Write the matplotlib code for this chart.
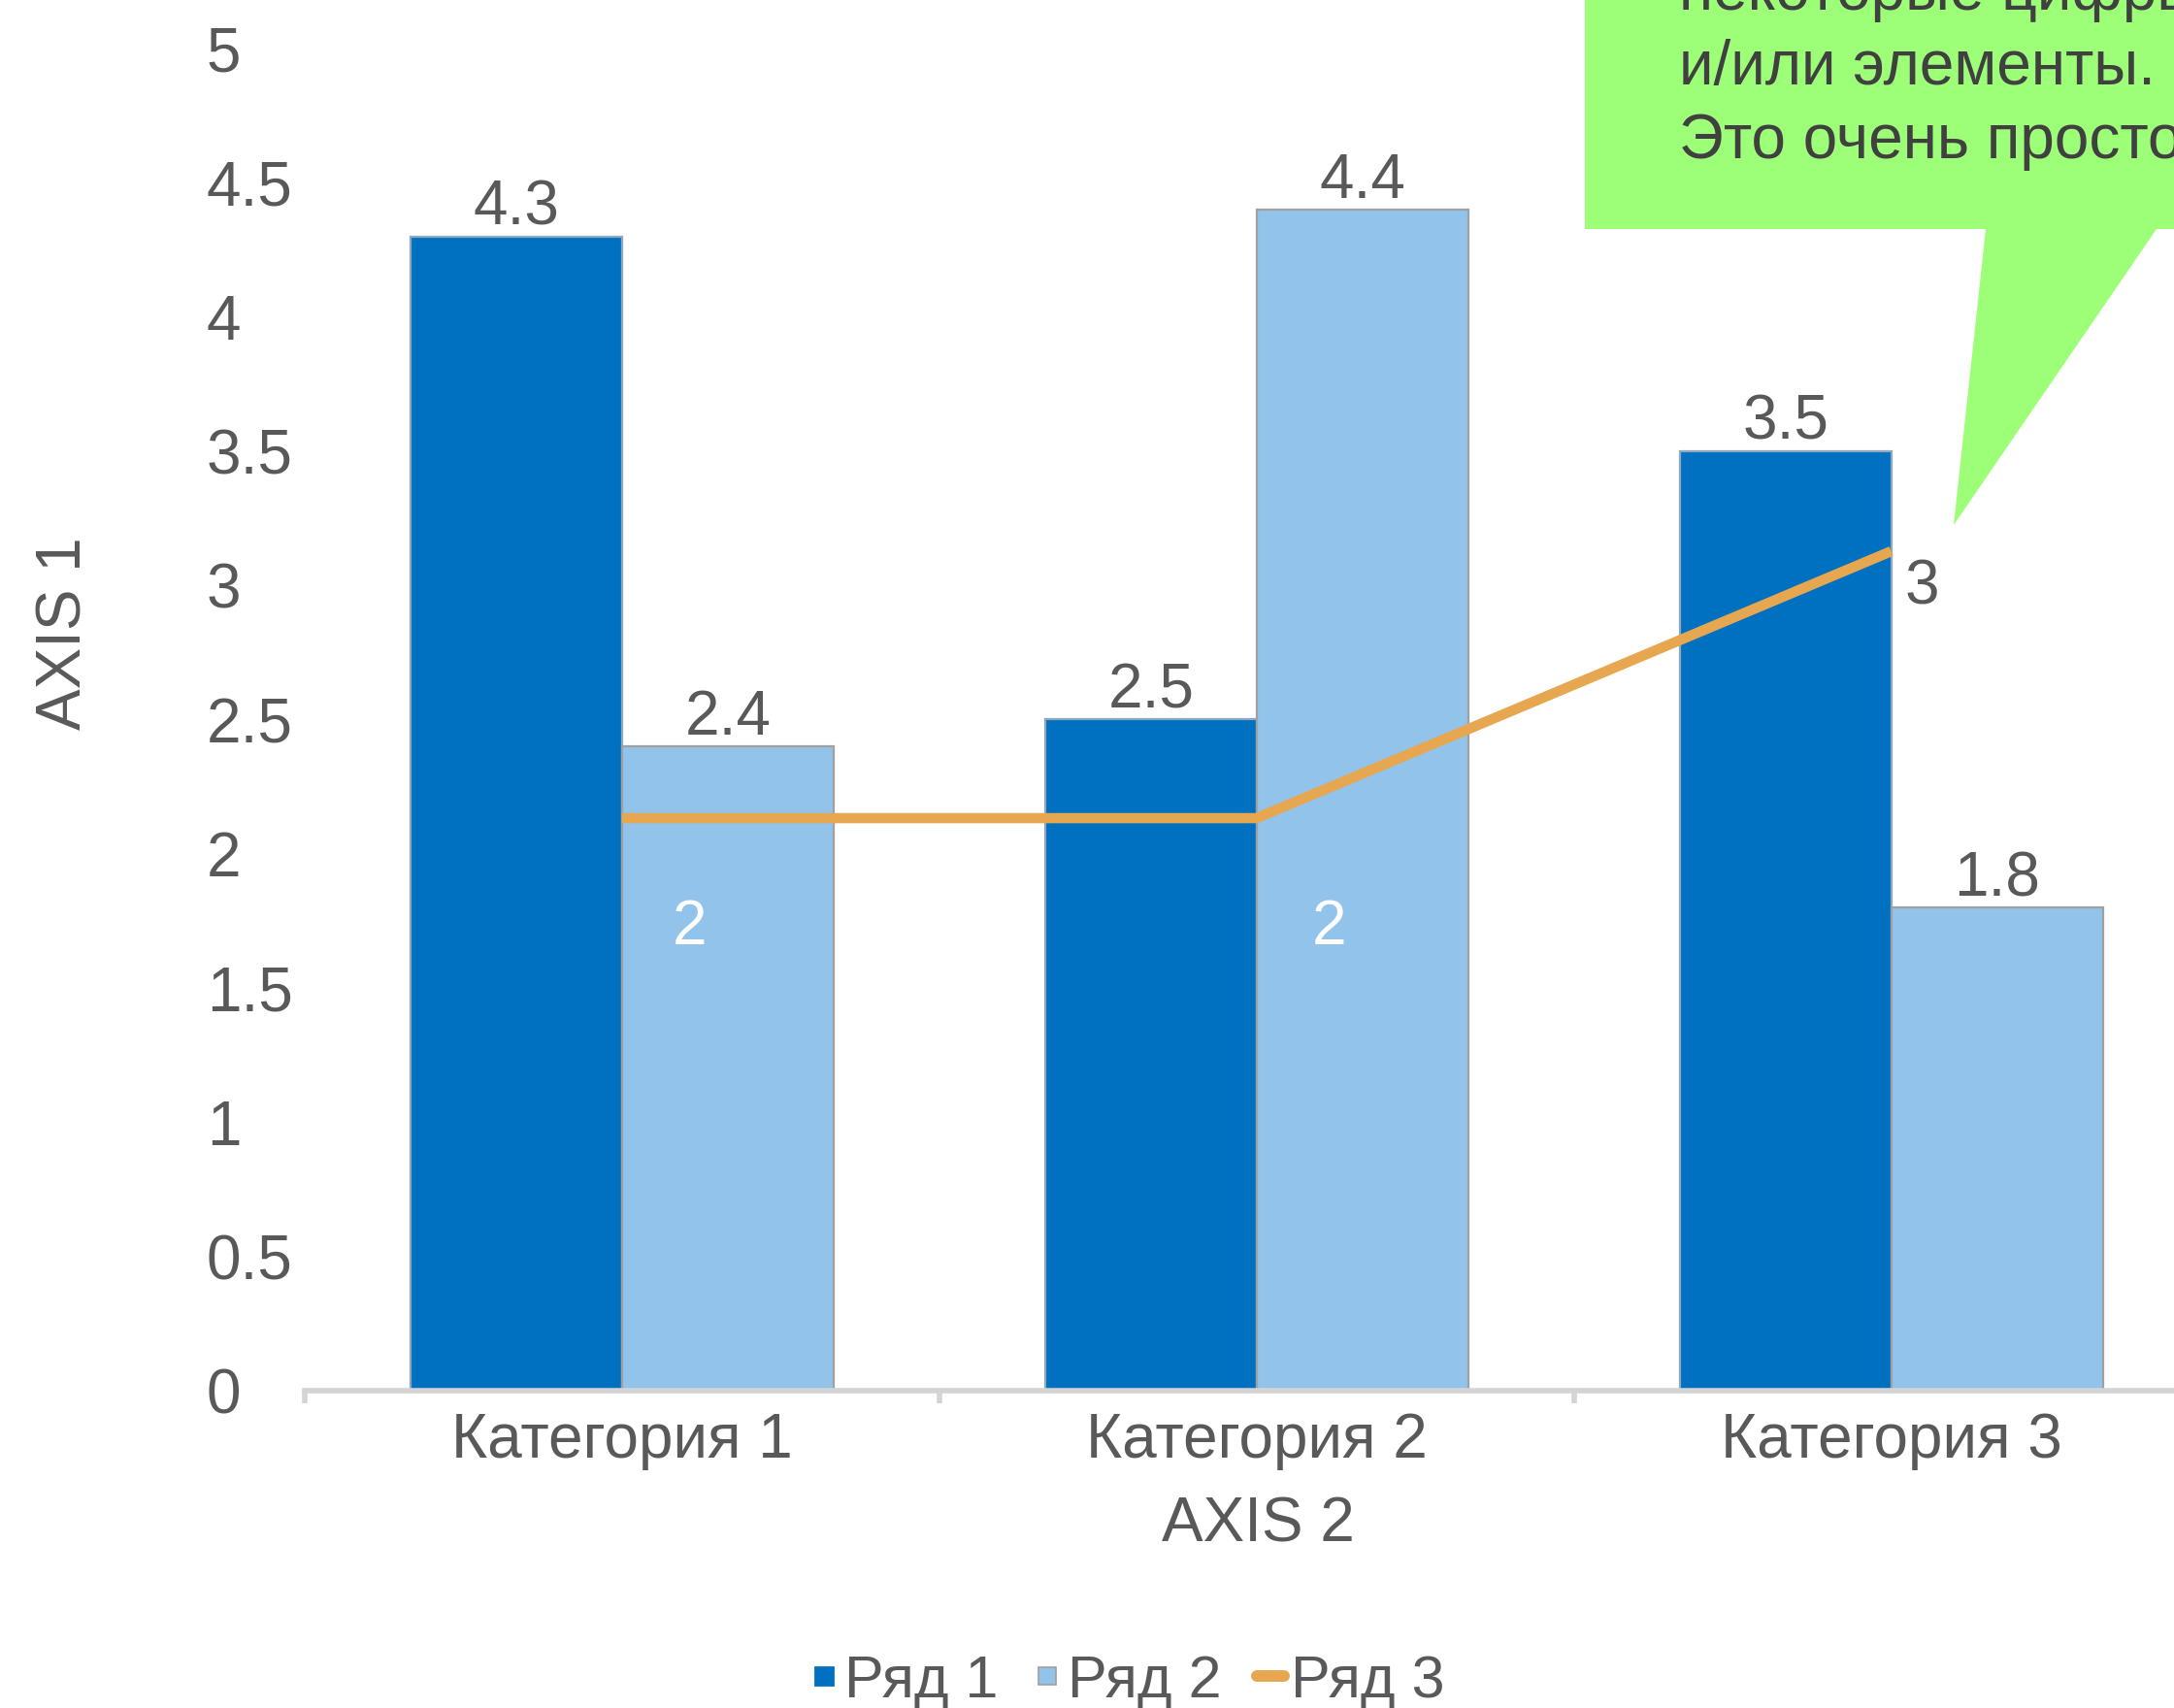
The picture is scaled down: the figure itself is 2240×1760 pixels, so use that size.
import matplotlib.pyplot as plt
from matplotlib.lines import Line2D
from matplotlib.patches import Polygon
import numpy as np

# --- Data ---
categories = ['Категория 1', 'Категория 2', 'Категория 3']
series_names = ['Ряд 1', 'Ряд 2', 'Ряд 3']
series1 = [4.3, 2.5, 3.5]
series2 = [2.4, 4.4, 1.8]
series3 = [2, 2, 3]
y_ticks = [0, 0.5, 1, 1.5, 2, 2.5, 3, 3.5, 4, 4.5, 5]
callout_lines = ['некоторые цифры', 'и/или элементы.', 'Это очень просто']

# --- Style ---
plt.rcParams['font.family'] = ['Liberation Sans', 'DejaVu Sans']
DARK = '#0070C0'
LIGHT = '#92C4EB'
ORANGE = '#E6A750'
GRAY = '#595959'
W, H = 2240, 1760


def fx(px):
    return px / W


def fy(py):
    return 1 - py / H


fig = plt.figure(figsize=(11.2, 8.8), dpi=200)

# axes extend past the right edge (the source picture is cropped there)
ax = fig.add_axes([fx(314), fy(1433), 1961.5 / W, (1433 - 50) / H])

x = np.arange(len(categories))
w = 1 / 3
ax.bar(x - w / 2, series1, w, color=DARK, edgecolor='#8FA8BD', linewidth=0.8, zorder=2)
ax.bar(x + w / 2, series2, w, color=LIGHT, edgecolor='#A0A0A0', linewidth=0.8, zorder=2)

for xi, v in zip(x - w / 2, series1):
    ax.annotate(f'{v:g}', (xi, v), xytext=(0, 4.3), textcoords='offset points',
                ha='center', va='baseline', fontsize=23, color=GRAY)
for xi, v in zip(x + w / 2, series2):
    ax.annotate(f'{v:g}', (xi, v), xytext=(0, 4.3), textcoords='offset points',
                ha='center', va='baseline', fontsize=23, color=GRAY)

ax.set_xlim(-0.5, 2.5)
ax.set_ylim(0, 5)

# line series sits on a hidden secondary scale
ax2 = ax.twinx()
ax2.plot(x, series3, color=ORANGE, lw=3.8, solid_capstyle='butt', zorder=3)
ax2.set_ylim(-0.1455, 4.884)
ax2.axis('off')

label_offsets = [(25, -40.5), (27, -40.5), (11.5, -13.5)]
label_colors = ['white', 'white', GRAY]
for xi, v, off, c in zip(x, series3, label_offsets, label_colors):
    ax2.annotate(f'{v:g}', (xi, v), xytext=off, textcoords='offset points',
                 ha='center', va='center', fontsize=23, color=c)

# spines & ticks
for s in ['top', 'right', 'left']:
    ax.spines[s].set_visible(False)
ax.spines['bottom'].set_color('#D4D4D4')
ax.spines['bottom'].set_linewidth(2)

ax.set_xticks(x)
ax.set_xticklabels(categories, fontsize=23, color=GRAY)
ax.tick_params(axis='x', which='major', length=0, pad=8)
ax.set_xticks([-0.5, 0.5, 1.5, 2.5], minor=True)
ax.tick_params(axis='x', which='minor', length=4.7, width=2, color='#D4D4D4', direction='out')

ax.set_yticks(y_ticks)
ax.set_yticklabels([f'{t:g}' for t in y_ticks], fontsize=23, color=GRAY)
ax.tick_params(axis='y', length=0, pad=36.4)
for lbl in ax.get_yticklabels():
    lbl.set_ha('left')

fig.text(fx(67), fy(653), 'AXIS 1', rotation=90, ha='center', va='center',
         fontsize=23, color=GRAY)
fig.text(fx(1296), fy(1571), 'AXIS 2', ha='center', va='center',
         fontsize=23, color=GRAY)

# legend
handles = [
    Line2D([], [], ls='', marker='s', ms=6.5, mfc=DARK, mec=DARK),
    Line2D([], [], ls='', marker='s', ms=6.5, mfc=LIGHT, mec='#A0A0A0', mew=0.6),
    Line2D([], [], color=ORANGE, lw=4.3, solid_capstyle='round'),
]
fig.legend(handles, series_names, loc='center', bbox_to_anchor=(fx(1162), fy(1733)),
           ncol=3, frameon=False, fontsize=22, handlelength=0.45, handletextpad=0.12,
           columnspacing=0.6, labelcolor=GRAY)

# speech-bubble callout (cropped at the top/right)
bubble_px = [(1633, 0), (2250, 0), (2250, 236), (2222, 236), (2013, 541),
             (2046, 236), (1633, 236)]
bubble = Polygon([(fx(px), fy(py)) for px, py in bubble_px], closed=True,
                 transform=fig.transFigure, facecolor='#9DFF78', edgecolor='none',
                 zorder=5)
fig.patches.append(bubble)
for i, line in enumerate(callout_lines):
    fig.text(fx(1730), fy(10 + 76.5 * i), line, ha='left', va='baseline',
             fontsize=23, color='#404040', zorder=6)

fig.savefig('out.png', dpi=200)
